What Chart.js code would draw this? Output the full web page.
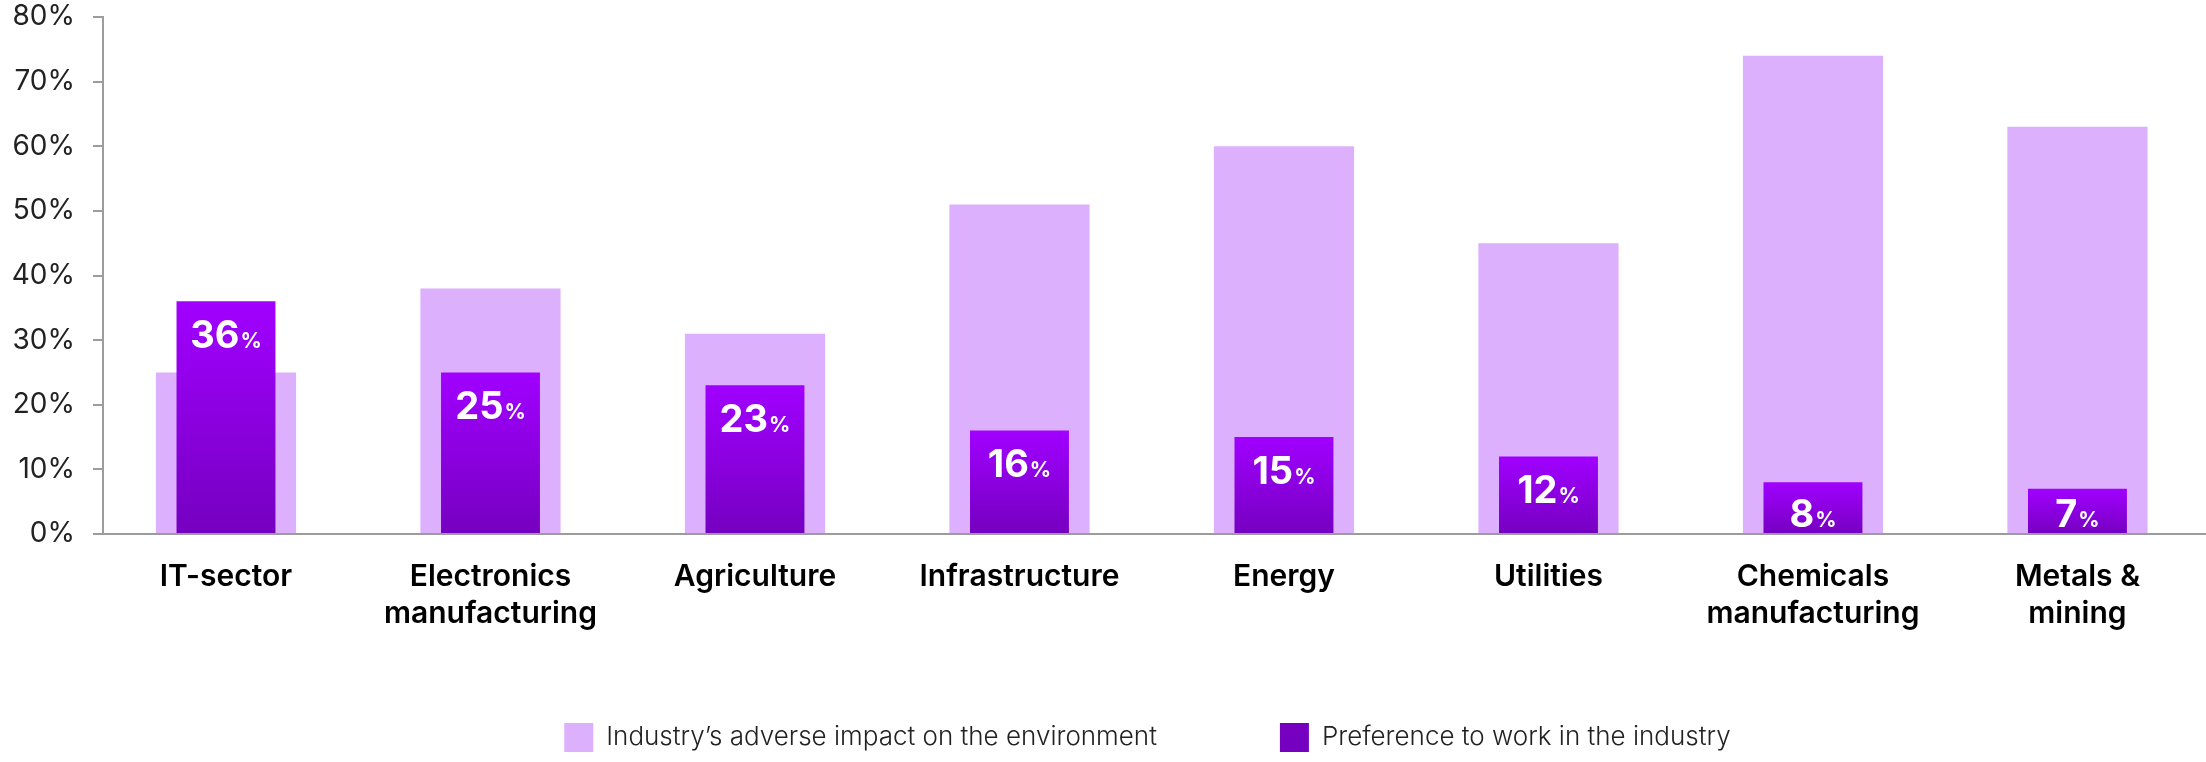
<!DOCTYPE html>
<html>
<head>
<meta charset="utf-8">
<script src="https://cdn.jsdelivr.net/npm/chart.js@4/dist/chart.umd.min.js"></script>
<style>
  html, body { margin: 0; padding: 0; background: #fff; overflow: hidden; }
  #wrap { width: 2206px; height: 762px; }
</style>
</head>
<body>
<div id="wrap"><canvas id="chart" width="2206" height="762"></canvas></div>
<script>
// Data
var categories = [
    ['IT-sector'],
    ['Electronics', 'manufacturing'],
    ['Agriculture'],
    ['Infrastructure'],
    ['Energy'],
    ['Utilities'],
    ['Chemicals', 'manufacturing'],
    ['Metals &', 'mining']
];
var impactValues = [25, 38, 31, 51, 60, 45, 74, 63];
var preferenceValues = [36, 25, 23, 16, 15, 12, 8, 7];
var yTicks = [0, 10, 20, 30, 40, 50, 60, 70, 80];
var seriesNames = ['Industry\u2019s adverse impact on the environment', 'Preference to work in the industry'];

function gel(id) {
    return document.getElementById(id);
}

// gradient for the dark bars, from the top of each bar to the axis
function darkFill(c) {
    var chart = c.chart;
    if (!chart.chartArea || c.type !== 'data' || !c.parsed) return '#8A00E6';
    var ys = chart.scales.y;
    var top = ys.getPixelForValue(c.parsed.y);
    var bottom = ys.getPixelForValue(0);
    var g = chart.ctx.createLinearGradient(0, top, 0, bottom);
    g.addColorStop(0, '#A100FF');
    g.addColorStop(1, '#7500C0');
    return g;
}

// x labels go below the (short) x scale box, so don't let them be clipped.
// legend sits a little left of the plot centre
var layoutFix = {
    id: 'layoutFix',
    afterLayout: function(chart) {
        chart.scales.x.bottom = chart.height;
        chart.legend.left -= 7;
        chart.legend.right -= 7;
    }
};

// writes "36%" inside the dark bars
var valueLabels = {
    id: 'valueLabels',
    afterDatasetsDraw: function(chart) {
        var ctx = chart.ctx;
        var meta = chart.getDatasetMeta(1);
        ctx.save();
        ctx.fillStyle = '#fff';
        ctx.textBaseline = 'alphabetic';
        ctx.textAlign = 'left';
        meta.data.forEach(function(bar, i) {
            var num = String(preferenceValues[i]);
            ctx.font = '700 38px Inter';
            var w1 = ctx.measureText(num).width;
            ctx.font = '700 21px Inter';
            var w2 = ctx.measureText('%').width;
            var textTop = Math.min(bar.y + 19, bar.base - 34);
            var baseline = textTop + 27.5;
            var x = bar.x - (w1 + w2 + 1) / 2;
            ctx.font = '700 38px Inter';
            ctx.fillText(num, x, baseline);
            ctx.font = '700 21px Inter';
            ctx.fillText('%', x + w1 + 1, baseline);
        });
        ctx.restore();
    }
};

var chart1 = new Chart(gel('chart').getContext('2d'), {
    type: 'bar',
    data: {
        datasets: [{
            label: seriesNames[0],
            data: impactValues.map(function(v, i) { return { x: i, y: v }; }),
            backgroundColor: '#DCB0FC',
            grouped: false,
            order: 1,
            categoryPercentage: 1,
            barPercentage: 0.53
        }, {
            label: seriesNames[1],
            data: preferenceValues.map(function(v, i) { return { x: i, y: v }; }),
            backgroundColor: darkFill,
            grouped: false,
            order: 0,
            categoryPercentage: 1,
            barPercentage: 0.374
        }]
    },
    plugins: [valueLabels, layoutFix],
    options: {
        responsive: false,
        animation: false,
        layout: { padding: { top: 0, left: 0, right: 0, bottom: 0 } },
        plugins: {
            tooltip: { enabled: false },
            legend: {
                position: 'bottom',
                fullSize: false,
                labels: {
                    boxWidth: 29,
                    boxHeight: 29,
                    padding: 123,
                    color: '#222',
                    font: { family: 'Inter', size: 26, weight: '300' },
                    sort: function(a, b) { return a.datasetIndex - b.datasetIndex; }
                }
            }
        },
        scales: {
            x: {
                type: 'linear',
                min: -0.465,
                max: 7.486,
                offset: false,
                afterBuildTicks: function(s) {
                    s.ticks = categories.map(function(c, i) { return { value: i }; });
                },
                afterFit: function(s) { s.height = 66; },
                grid: { display: false, drawTicks: false },
                border: { display: true, color: '#9c9c9c', width: 2 },
                ticks: {
                    autoSkip: false,
                    maxRotation: 0,
                    padding: 24,
                    color: '#000',
                    font: { family: 'Inter', size: 30, weight: '600', lineHeight: 1.233 },
                    callback: function(v) { return categories[v]; }
                }
            },
            y: {
                min: 0,
                max: 80,
                afterBuildTicks: function(s) {
                    s.ticks = yTicks.map(function(v) { return { value: v }; });
                },
                afterFit: function(s) {
                    s.width = 103;
                    s.paddingTop = 17;
                    s.paddingBottom = 17;
                },
                grid: { drawOnChartArea: false, drawTicks: true, tickLength: 10, color: '#9c9c9c', lineWidth: 2 },
                border: { display: true, color: '#9c9c9c', width: 2 },
                ticks: {
                    padding: 18,
                    color: '#222',
                    font: { family: 'Inter', size: 28, weight: '400' },
                    callback: function(v) { return v + '%'; }
                }
            }
        }
    }
});
</script>
</body>
</html>
